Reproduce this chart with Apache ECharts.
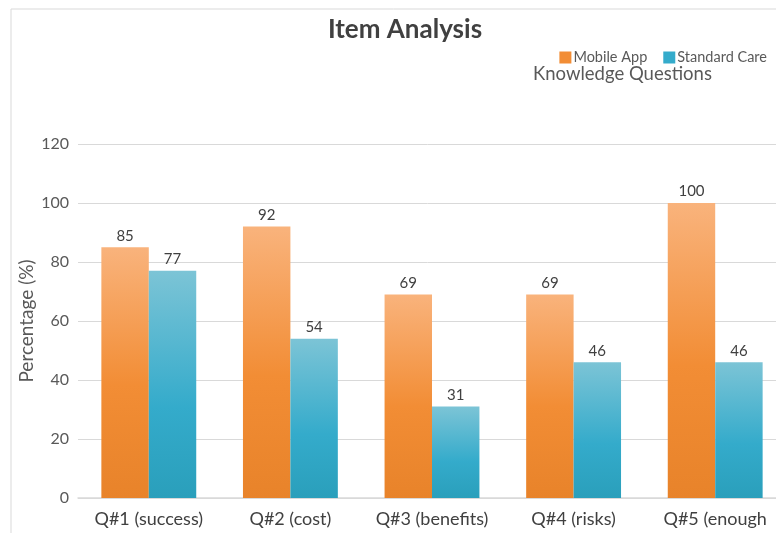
<!DOCTYPE html>
<html>
<head>
<meta charset="utf-8">
<script src="https://cdn.jsdelivr.net/npm/echarts@6/dist/echarts.min.js"></script>
<style>
  html, body { margin: 0; padding: 0; background: #fff; }
  #main { width: 776px; height: 533px; }
</style>
</head>
<body>
<div id="main"></div>
<script>
var categories = ['Q#1 (success)', 'Q#2 (cost)', 'Q#3 (benefits)', 'Q#4 (risks)', 'Q#5 (enough']
var mobileApp = [85, 92, 69, 69, 100]
var standardCare = [77, 54, 31, 46, 46]
var yTicks = [0, 20, 40, 60, 80, 100, 120]

var chart = echarts.init(document.getElementById('main'))
var font = 'Lato, "Open Sans", sans-serif'

function grad(stops) {
	return new echarts.graphic.LinearGradient(0, 0, 0, 1, stops)
}
var orange = grad([
	{offset: 0, color: '#f9b37c'},
	{offset: 0.55, color: '#f28d35'},
	{offset: 1, color: '#e8832a'}
])
var teal = grad([
	{offset: 0, color: '#7cc4d6'},
	{offset: 0.6, color: '#34abcb'},
	{offset: 1, color: '#2a9fbb'}
])

var option = {
	backgroundColor: '#fff',
	textStyle: {fontFamily: font},
	title: [
		{
			text: 'Item Analysis',
			left: 400, top: 12, textAlign: 'center',
			textStyle: {fontFamily: font, fontSize: 26, fontWeight: 'bold', color: '#404040'}
		},
		{
			text: 'Knowledge Questions',
			left: 528, top: 60,
			textStyle: {fontFamily: font, fontSize: 18.5, fontWeight: 'normal', color: '#595959'}
		}
	],
	legend: {
		right: 4, top: 45,
		icon: 'rect',
		itemWidth: 12, itemHeight: 12, itemGap: 16,
		textStyle: {fontFamily: font, fontSize: 14.5, color: '#595959', padding: [0, 0, 0, -3]},
		data: [
			{name: 'Mobile App', itemStyle: {color: '#f28d35'}},
			{name: 'Standard Care', itemStyle: {color: '#34abcb'}}
		]
	},
	graphic: [{
		type: 'polyline',
		shape: {points: [[11, 533], [11, 9], [776, 9]]},
		style: {stroke: '#d9d9d9', fill: null, lineWidth: 1}
	}],
	grid: {left: 78, width: 708, top: 144, bottom: 35, outerBoundsMode: 'none'},
	xAxis: {
		type: 'category',
		data: categories,
		axisTick: {show: false},
		axisLine: {lineStyle: {color: '#d9d9d9', width: 1.5}},
		axisLabel: {fontFamily: font, fontSize: 18, color: '#404040', margin: 12, interval: 0}
	},
	yAxis: {
		type: 'value',
		min: yTicks[0], max: yTicks[yTicks.length - 1], interval: 20,
		name: 'Percentage (%)',
		nameLocation: 'middle', nameGap: 42, nameRotate: 90,
		nameMoveOverlap: false,
		nameTextStyle: {fontFamily: font, fontSize: 19, color: '#595959'},
		axisLine: {show: false},
		axisTick: {show: false},
		axisLabel: {fontFamily: font, fontSize: 16, color: '#595959', margin: 9},
		splitLine: {lineStyle: {color: '#d9d9d9', width: 1}}
	},
	series: [
		{
			name: 'Mobile App', type: 'bar',
			data: mobileApp,
			barGap: '0%', barCategoryGap: '33%',
			itemStyle: {color: orange},
			label: {show: true, position: 'top', distance: 4, fontFamily: font, fontSize: 15, color: '#404040'}
		},
		{
			name: 'Standard Care', type: 'bar',
			data: standardCare,
			itemStyle: {color: teal},
			label: {show: true, position: 'top', distance: 4, fontFamily: font, fontSize: 15, color: '#404040'}
		}
	]
}
chart.setOption(option)
</script>
</body>
</html>
